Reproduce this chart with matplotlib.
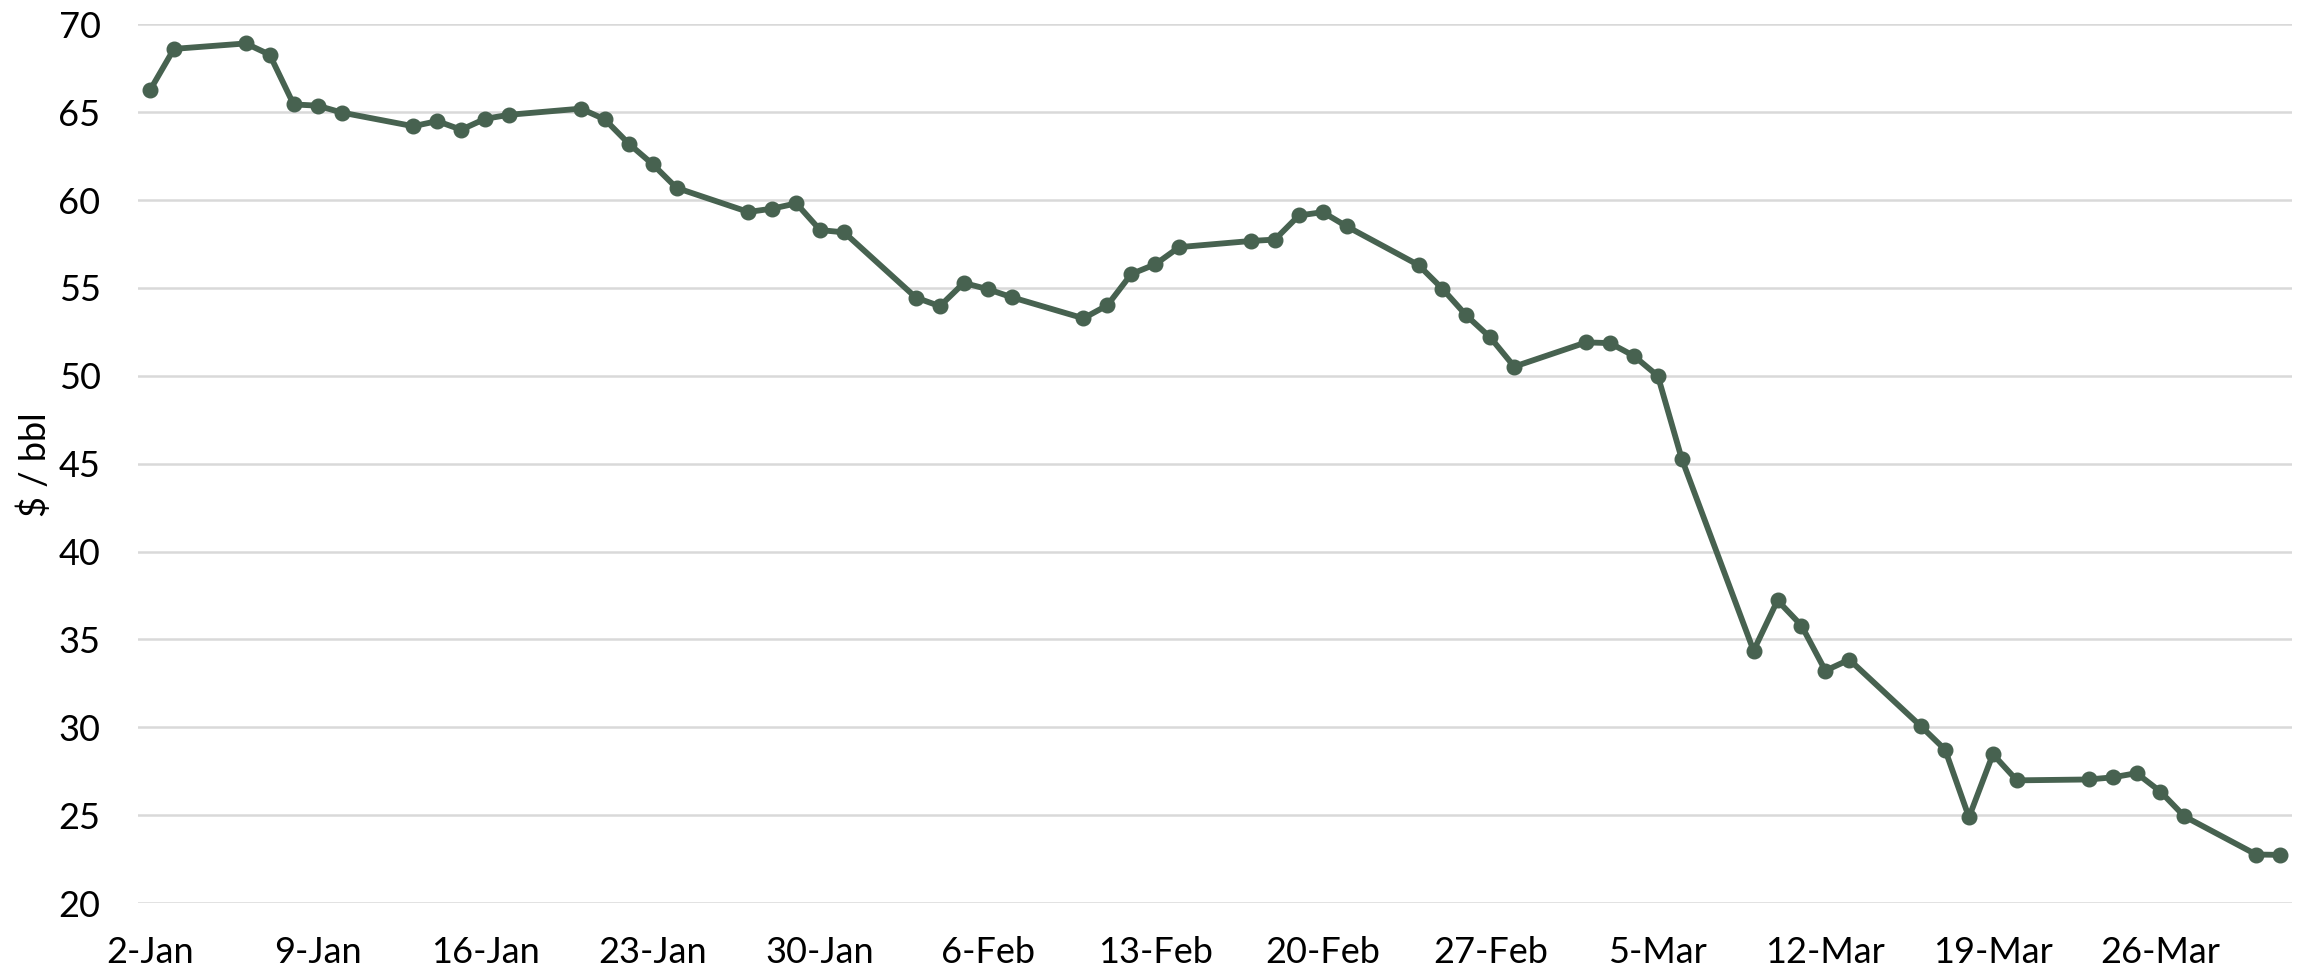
import numpy as np
import pandas as pd
import matplotlib
matplotlib.use("Agg")
import matplotlib.pyplot as plt
import matplotlib.dates as mdates

plt.rcParams['font.family'] = ['Lato', 'DejaVu Sans']

# Daily price, trading days Jan-Mar
dates = [
    "2020-01-02", "2020-01-03", "2020-01-06", "2020-01-07", "2020-01-08", "2020-01-09", "2020-01-10",
    "2020-01-13", "2020-01-14", "2020-01-15", "2020-01-16", "2020-01-17",
    "2020-01-20", "2020-01-21", "2020-01-22", "2020-01-23", "2020-01-24",
    "2020-01-27", "2020-01-28", "2020-01-29", "2020-01-30", "2020-01-31",
    "2020-02-03", "2020-02-04", "2020-02-05", "2020-02-06", "2020-02-07",
    "2020-02-10", "2020-02-11", "2020-02-12", "2020-02-13", "2020-02-14",
    "2020-02-17", "2020-02-18", "2020-02-19", "2020-02-20", "2020-02-21",
    "2020-02-24", "2020-02-25", "2020-02-26", "2020-02-27", "2020-02-28",
    "2020-03-02", "2020-03-03", "2020-03-04", "2020-03-05", "2020-03-06",
    "2020-03-09", "2020-03-10", "2020-03-11", "2020-03-12", "2020-03-13",
    "2020-03-16", "2020-03-17", "2020-03-18", "2020-03-19", "2020-03-20",
    "2020-03-23", "2020-03-24", "2020-03-25", "2020-03-26", "2020-03-27",
    "2020-03-30", "2020-03-31",
]
prices = [
    66.25, 68.60, 68.91, 68.27, 65.44, 65.37, 64.98,
    64.20, 64.49, 64.00, 64.62, 64.85,
    65.20, 64.59, 63.21, 62.04, 60.69,
    59.32, 59.51, 59.81, 58.29, 58.16,
    54.45, 53.96, 55.28, 54.93, 54.47,
    53.27, 54.01, 55.79, 56.34, 57.32,
    57.67, 57.75, 59.12, 59.31, 58.50,
    56.30, 54.95, 53.43, 52.18, 50.52,
    51.90, 51.86, 51.13, 49.99, 45.27,
    34.36, 37.22, 35.79, 33.22, 33.85,
    30.05, 28.73, 24.88, 28.47, 26.98,
    27.03, 27.15, 27.39, 26.34, 24.93,
    22.76, 22.74,
]
tick_dates = ["2020-01-02", "2020-01-09", "2020-01-16", "2020-01-23", "2020-01-30",
              "2020-02-06", "2020-02-13", "2020-02-20", "2020-02-27", "2020-03-05",
              "2020-03-12", "2020-03-19", "2020-03-26"]
tick_labels = ["2-Jan", "9-Jan", "16-Jan", "23-Jan", "30-Jan", "6-Feb", "13-Feb",
               "20-Feb", "27-Feb", "5-Mar", "12-Mar", "19-Mar", "26-Mar"]

x = pd.to_datetime(dates)
line_col = '#476250'

fig = plt.figure(figsize=(23.05, 9.71), dpi=100)
ax = fig.add_axes([0.0599, 0.070, 0.9345, 0.905])

ax.plot(x, prices, color=line_col, lw=4.2, marker='o', markersize=10.5,
        markerfacecolor=line_col, markeredgecolor=line_col, zorder=3)

ax.set_ylim(20, 70)
ax.set_yticks(np.arange(20, 71, 5))
ax.set_xlim(mdates.date2num(x[0]) - 0.5, mdates.date2num(x[-1]) + 0.5)
ax.set_xticks(pd.to_datetime(tick_dates))
ax.set_xticklabels(tick_labels)

ax.grid(axis='y', color='#d9d9d9', lw=1.8, zorder=0)
ax.set_axisbelow(True)
for s in ax.spines.values():
    s.set_visible(False)
ax.tick_params(axis='both', length=0, labelsize=26, colors='black')
ax.tick_params(axis='x', pad=24)
ax.tick_params(axis='y', pad=27)

# y-axis title, placed in figure coords
fig.text(0.015, 0.521, '$ / bbl', rotation=90, ha='center', va='center', fontsize=26)

fig.savefig('out.png', dpi=100)
